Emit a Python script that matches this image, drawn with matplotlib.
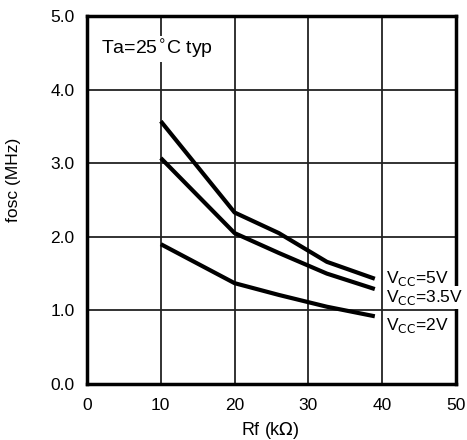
import matplotlib.pyplot as plt

plt.rcParams['font.family'] = ['Liberation Sans', 'DejaVu Sans']

# curve data
rf = [10, 20, 26, 32.5, 39]
f_5v = [3.57, 2.33, 2.05, 1.66, 1.43]
f_35v = [3.07, 2.05, 1.78, 1.50, 1.29]
f_2v = [1.90, 1.37, 1.21, 1.05, 0.92]
curve_labels = ["V$_{\\rm CC}$=5V", "V$_{\\rm CC}$=3.5V", "V$_{\\rm CC}$=2V"]
label_y = [1.43, 1.18, 0.80]

xticks = [0, 10, 20, 30, 40, 50]
yticks = [0.0, 1.0, 2.0, 3.0, 4.0, 5.0]

W, H = 467, 440
fig = plt.figure(figsize=(W / 100, H / 100), dpi=100)
ax = fig.add_axes([87 / W, 1 - 384 / H, 369 / W, 368 / H])

for ys in (f_5v, f_35v, f_2v):
    ax.plot(rf, ys, color="black", lw=3, solid_capstyle="butt", zorder=3)

ax.set_xlim(0, 50)
ax.set_ylim(0, 5)
ax.set_xticks(xticks)
ax.set_yticks(yticks)
ax.set_yticklabels(["%.1f" % v for v in yticks])
ax.tick_params(length=0, labelsize=12.5)
ax.tick_params(axis="x", pad=10)
ax.tick_params(axis="y", pad=9)
ax.grid(True, color="#222222", lw=1.3)
ax.set_axisbelow(True)
for s in ax.spines.values():
    s.set_linewidth(2.5)

for lab, y in zip(curve_labels, label_y):
    ax.text(40.5, y, lab, fontsize=12.5, va="center", ha="left", zorder=4,
            bbox=dict(facecolor="white", edgecolor="none", pad=1.5))

ax.text(1.9, 4.55, "Ta=25$^{\\circ}$C typ", fontsize=14, va="center", ha="left",
        bbox=dict(facecolor="white", edgecolor="none", pad=1))

fig.text(270 / W, 1 - 430 / H, "Rf (k$\\Omega$)", fontsize=13, ha="center", va="center")
fig.text(14 / W, 1 - 180 / H, "fosc (MHz)", fontsize=12.5, ha="center", va="center",
         rotation=90)

plt.savefig("out.png", dpi=100)
